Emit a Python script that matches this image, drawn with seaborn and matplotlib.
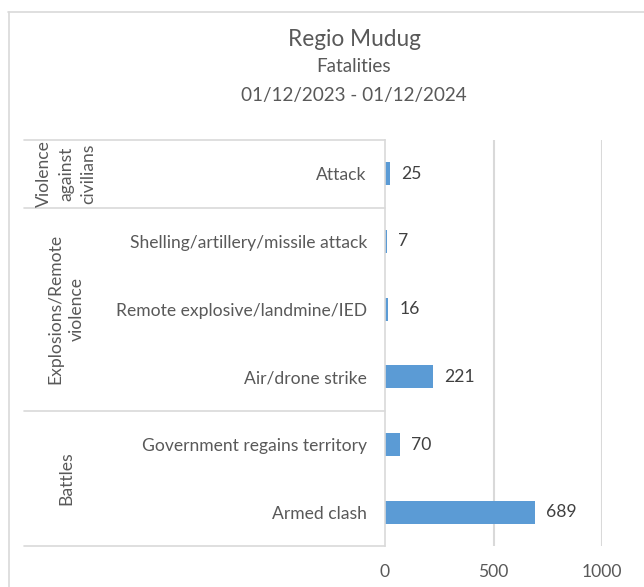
import matplotlib
matplotlib.use("Agg")
import matplotlib.pyplot as plt
import matplotlib.transforms as mtransforms
from matplotlib.lines import Line2D
import seaborn as sns
import pandas as pd

# Fatalities by event type, Mudug region
groups = ["Violence\nagainst\ncivilians", "Explosions/Remote\nviolence", "Battles"]
group_sizes = [1, 3, 2]
sub_events = [
    "Attack",
    "Shelling/artillery/missile attack",
    "Remote explosive/landmine/IED",
    "Air/drone strike",
    "Government regains territory",
    "Armed clash",
]
fatalities = [25, 7, 16, 221, 70, 689]
x_ticks = [0, 500, 1000]

df = pd.DataFrame({"event": sub_events, "fatalities": fatalities})

sns.set_style("white")
plt.rcParams["font.family"] = ["Lato", "DejaVu Sans"]

TEXT = "#595959"
GRID = "#D9D9D9"
BAR = "#5B9BD5"
FS = 12.6

W, H = 644, 587
fig = plt.figure(figsize=(W / 100, H / 100), dpi=100)
ax = fig.add_axes([385 / W, 1 - 546 / H, 217 / W, 406 / H])

sns.barplot(data=df, x="fatalities", y="event", order=sub_events,
            color=BAR, width=0.34, linewidth=0, saturation=1, ax=ax)

ax.set_xlim(x_ticks[0], x_ticks[-1])
ax.set_ylim(len(sub_events) - 0.5, -0.5)
ax.set_xticks(x_ticks)
ax.set_xticklabels([str(t) for t in x_ticks])
ax.set_xlabel("")
ax.set_ylabel("")
ax.tick_params(axis="x", length=0, pad=13, labelsize=FS, labelcolor=TEXT)
ax.tick_params(axis="y", length=0, pad=13, labelsize=FS, labelcolor=TEXT)
for t in ax.get_yticklabels():
    t.set_ha("right")

for s in ["top", "right", "bottom"]:
    ax.spines[s].set_visible(False)
ax.spines["left"].set_color(GRID)
ax.spines["left"].set_linewidth(1.2)

for t in x_ticks[1:]:
    ax.axvline(t, color=GRID, lw=1.5, zorder=0)

ax.bar_label(ax.containers[0], labels=[str(v) for v in fatalities],
             padding=8, fontsize=FS, color="#404040")

# Grouped category axis: separators and rotated group names
trans = mtransforms.blended_transform_factory(fig.transFigure, ax.transData)
x_left = 24 / W
x_axis = 385 / W
bounds = [-0.5]
for n in group_sizes:
    bounds.append(bounds[-1] + n)
for b in bounds:
    ax.add_line(Line2D([x_left, x_axis], [b, b], transform=trans,
                       color=GRID, lw=1.2, clip_on=False))
for name, lo, hi in zip(groups, bounds[:-1], bounds[1:]):
    ax.text(66 / W, (lo + hi) / 2, name, transform=trans, rotation=90,
            ha="center", va="center", multialignment="center",
            fontsize=FS, color=TEXT, linespacing=1.45)

# Titles
fig.text(354 / W, 1 - 40 / H, "Regio Mudug", ha="center", va="center",
         fontsize=16.3, color=TEXT)
fig.text(354 / W, 1 - 67 / H, "Fatalities", ha="center", va="center",
         fontsize=13.6, color=TEXT)
fig.text(354 / W, 1 - 95 / H, "01/12/2023 - 01/12/2024", ha="center",
         va="center", fontsize=13.6, color=TEXT)

# Chart border
fig.add_artist(Line2D([8 / W, 1], [1 - 11.5 / H, 1 - 11.5 / H],
                      transform=fig.transFigure, color=GRID, lw=1.2))
fig.add_artist(Line2D([9 / W, 9 / W], [0, 1 - 11.5 / H],
                      transform=fig.transFigure, color=GRID, lw=1.2))

fig.savefig("out.png", dpi=100, facecolor="white")
